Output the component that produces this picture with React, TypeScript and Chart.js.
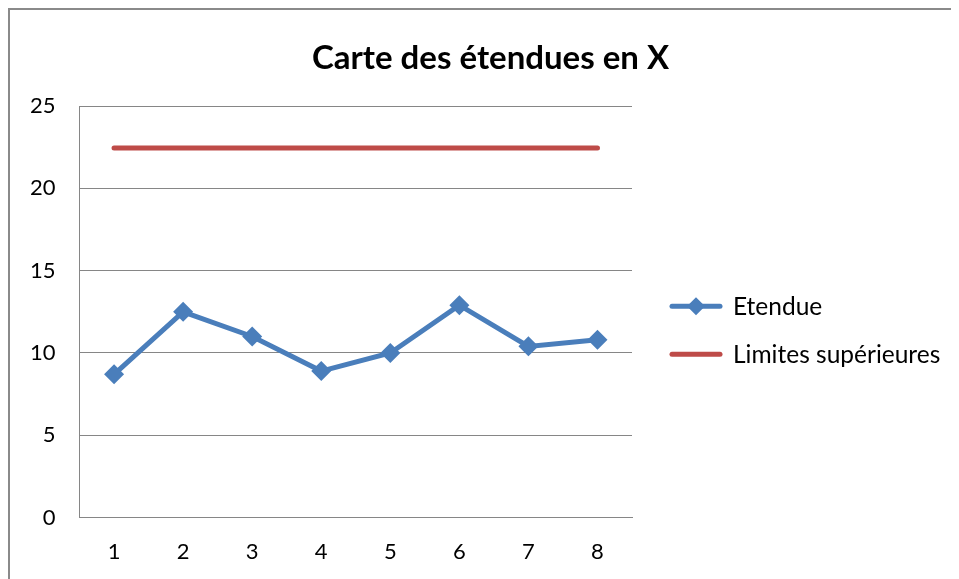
import React, { useEffect, useRef } from "react";
import { Chart, registerables } from "chart.js";

Chart.register(...registerables);

const categories = ["1", "2", "3", "4", "5", "6", "7", "8"];
const etendue = [8.7, 12.5, 11.0, 8.9, 10.0, 12.9, 10.4, 10.8];
const limites = [22.45, 22.45, 22.45, 22.45, 22.45, 22.45, 22.45, 22.45];
const titleText = "Carte des étendues en X";
const seriesNames = ["Etendue", "Limites supérieures"];

const BLUE = "#4a7ebb";
const RED = "#be4b48";
const GRID = "#868686";
const FONT = "Lato, 'Open Sans', sans-serif";

// Title centred across the whole frame and legend to the right of the plot.
const frameDecor = {
  id: "frameDecor",
  afterDraw(chart: any) {
    const { ctx, chartArea, width } = chart;
    ctx.save();
    // title
    ctx.font = `bold 33px ${FONT}`;
    ctx.fillStyle = "#000";
    ctx.textAlign = "center";
    ctx.textBaseline = "alphabetic";
    ctx.fillText(chart.options.plugins.frameDecor.title, width / 2 + 6, 59);

    // legend
    const midY = (chartArea.top + chartArea.bottom) / 2;
    const x0 = chartArea.right + 40;
    ctx.font = `24.5px ${FONT}`;
    ctx.textBaseline = "middle";
    ctx.textAlign = "left";
    chart.data.datasets.forEach((ds: any, i: number) => {
      const y = midY - 5.5 + i * 48;
      ctx.strokeStyle = ds.borderColor;
      ctx.lineWidth = 5;
      ctx.lineCap = "round";
      ctx.beginPath();
      ctx.moveTo(x0, y);
      ctx.lineTo(x0 + 48, y);
      ctx.stroke();
      if (ds.pointRadius > 0) {
        const cx = x0 + 24;
        const r = 9;
        ctx.fillStyle = ds.borderColor;
        ctx.beginPath();
        ctx.moveTo(cx, y - r);
        ctx.lineTo(cx + r, y);
        ctx.lineTo(cx, y + r);
        ctx.lineTo(cx - r, y);
        ctx.closePath();
        ctx.fill();
      }
      ctx.fillStyle = "#000";
      ctx.fillText(ds.label, x0 + 61, y + 1);
    });
    ctx.restore();
  },
};

export default function App() {
  const ref = useRef<HTMLCanvasElement | null>(null);

  useEffect(() => {
    if (!ref.current) return;
    const chart = new Chart(ref.current, {
      type: "line",
      data: {
        labels: categories,
        datasets: [
          {
            label: seriesNames[0],
            data: etendue,
            borderColor: BLUE,
            backgroundColor: BLUE,
            borderWidth: 5,
            pointStyle: "rectRot",
            pointRadius: 10,
            pointBorderWidth: 0,
            pointBackgroundColor: BLUE,
            tension: 0,
          },
          {
            label: seriesNames[1],
            data: limites,
            borderColor: RED,
            backgroundColor: RED,
            borderWidth: 5,
            borderCapStyle: "round",
            pointRadius: 0,
            tension: 0,
          },
        ],
      },
      options: {
        animation: false,
        responsive: false,
        layout: { padding: { left: -4, right: 327, top: 96, bottom: -7 } },
        plugins: {
          frameDecor: { title: titleText },
          title: { display: false },
          legend: { display: false },
          tooltip: { enabled: false },
        } as any,
        scales: {
          x: {
            offset: true,
            grid: { display: false, drawTicks: false, offset: true },
            border: { display: true, color: GRID, width: 1 },
            ticks: { color: "#000", font: { family: FONT, size: 22 }, padding: 21 },
          },
          y: {
            min: 0,
            max: 25,
            ticks: { stepSize: 5, color: "#000", font: { family: FONT, size: 22 }, padding: 24 },
            grid: { color: GRID, drawTicks: false, lineWidth: 1 },
            border: { display: true, color: GRID, width: 1 },
          },
        },
      },
      plugins: [frameDecor],
    });
    return () => chart.destroy();
  }, []);

  return (
    <div
      style={{
        width: 951,
        height: 571,
        boxSizing: "border-box",
        borderLeft: "2px solid #8a8a8a",
        borderTop: "2px solid #8a8a8a",
        background: "#fff",
      }}
    >
      <canvas ref={ref} width={949} height={569} style={{ display: "block" }} />
    </div>
  );
}
